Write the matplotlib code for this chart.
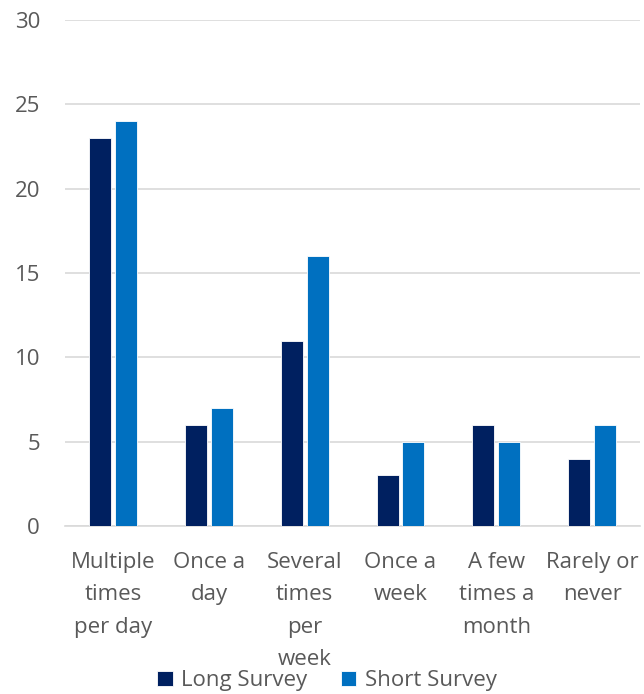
import matplotlib
matplotlib.use("Agg")
import matplotlib.pyplot as plt
import numpy as np

categories = ["Multiple\ntimes\nper day", "Once a\nday", "Several\ntimes\nper\nweek",
              "Once a\nweek", "A few\ntimes a\nmonth", "Rarely or\nnever"]
long_survey = [23, 6, 11, 3, 6, 4]
short_survey = [24, 7, 16, 5, 5, 6]
series_names = ["Long Survey", "Short Survey"]
colors = ["#002060", "#0070C0"]
text_color = "#595959"

plt.rcParams['font.family'] = ['Open Sans', 'DejaVu Sans']
FS = 16

fig = plt.figure(figsize=(6.44, 6.94), dpi=100)
ax = fig.add_axes([0.101, 0.242, 0.893, 0.729])

x = np.arange(len(categories))
w = 0.23
off = 0.135
ax.bar(x - off, long_survey, w, color=colors[0], edgecolor="white", linewidth=0.6,
       label=series_names[0], zorder=3)
ax.bar(x + off, short_survey, w, color=colors[1], edgecolor="white", linewidth=0.6,
       label=series_names[1], zorder=3)

ax.set_xlim(-0.5, len(categories) - 0.5)
ax.set_ylim(0, 30)
ax.set_yticks(range(0, 31, 5))
ax.yaxis.grid(True, color="#D9D9D9", linewidth=1.2, zorder=0)
ax.set_axisbelow(True)
for s in ["top", "right", "left"]:
    ax.spines[s].set_visible(False)
ax.spines["bottom"].set_color("#D9D9D9")
ax.spines["bottom"].set_linewidth(1.2)
ax.tick_params(axis="both", length=0, colors=text_color, labelsize=FS)
ax.tick_params(axis="y", pad=18)
ax.tick_params(axis="x", pad=19)
ax.set_xticks(x)
ax.set_xticklabels(categories, linespacing=1.69, va="top", fontsize=FS, color=text_color)
for lbl in ax.get_yticklabels():
    lbl.set_color(text_color)
    lbl.set_fontsize(FS)

leg = fig.legend(loc="center", bbox_to_anchor=(0.508, 0.019), ncol=2, frameon=False,
                 fontsize=FS, handlelength=0.7, handleheight=0.7, handletextpad=0.4,
                 columnspacing=1.5, labelcolor=text_color)

fig.savefig("out.png", dpi=100)
